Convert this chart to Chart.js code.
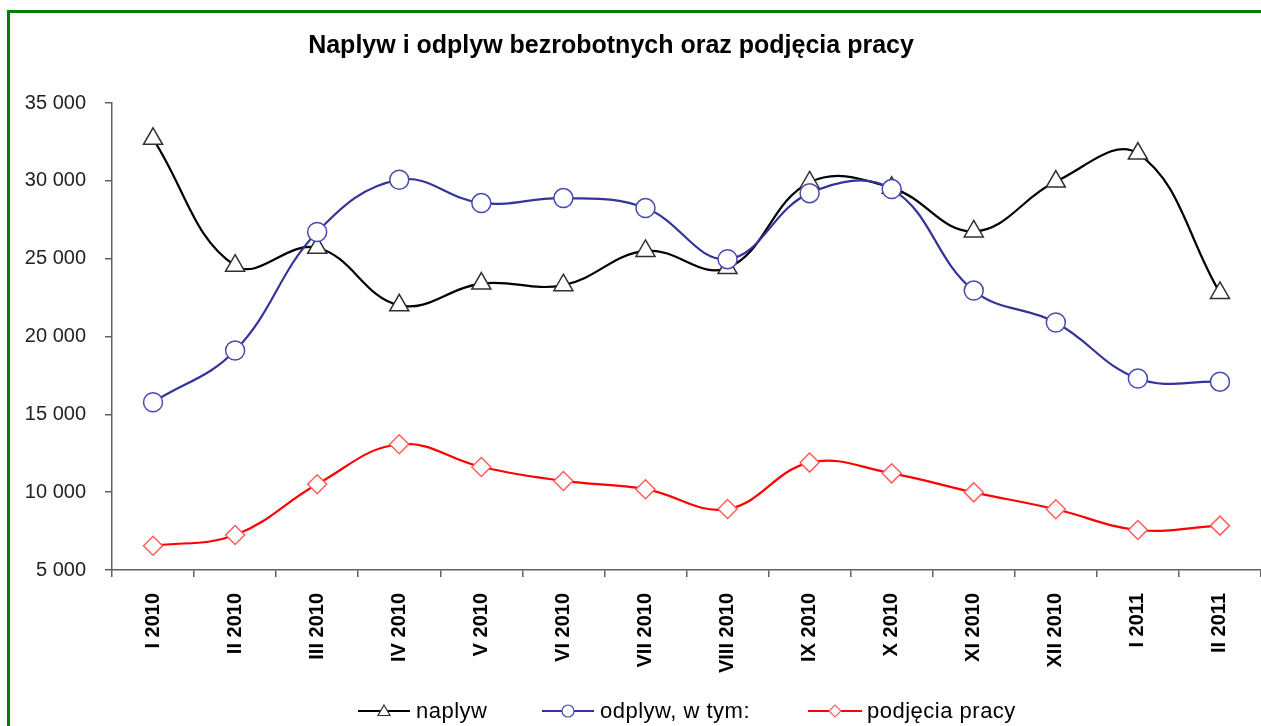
<!DOCTYPE html>
<html lang="pl">
<head>
<meta charset="utf-8">
<title>Naplyw i odplyw bezrobotnych</title>
<script src="https://cdn.jsdelivr.net/npm/chart.js@4.4.1/dist/chart.umd.min.js"></script>
<style>
  html, body { margin: 0; padding: 0; background: #fff; overflow: hidden; }
  #wrap { position: relative; width: 1261px; height: 726px; }
  #frame {
    position: absolute; left: 7px; top: 10px; width: 1300px; height: 800px;
    border-left: 3px solid #008000; border-top: 3px solid #008000;
  }
  canvas { position: absolute; left: 0; top: 0; }
</style>
</head>
<body>
<div id="wrap">
  <div id="frame"></div>
  <canvas id="chart" width="1261" height="726"></canvas>
</div>
<script>
/* ---------------- Data ---------------- */
const months = ['I 2010', 'II 2010', 'III 2010', 'IV 2010', 'V 2010', 'VI 2010', 'VII 2010',
                'VIII 2010', 'IX 2010', 'X 2010', 'XI 2010', 'XII 2010', 'I 2011', 'II 2011'];
const naplyw   = [32700, 24550, 25700, 22000, 23400, 23300, 25500, 24400, 29900, 29550, 26750, 29950, 31750, 22800];
const odplyw   = [15780, 19100, 26710, 30070, 28570, 28890, 28250, 24970, 29210, 29470, 22950, 20900, 17300, 17100];
const podjecia = [6560, 7250, 10510, 13080, 11620, 10720, 10190, 8920, 11900, 11210, 9990, 8900, 7570, 7850];
const yTicks   = [5000, 10000, 15000, 20000, 25000, 30000, 35000];

const chartTitle = 'Naplyw i odplyw bezrobotnych oraz podjęcia pracy';
const seriesNames = ['naplyw', 'odplyw, w tym:', 'podjęcia pracy'];

// "35 000" style numbers
const fmt = v => String(v).replace(/\B(?=(\d{3})+(?!\d))/g, ' ');

/* ---------------- Title + legend drawn on canvas ---------------- */
const legendPos = [
  { x: 358, w: 52, tx: 416 },
  { x: 542, w: 52, tx: 600 },
  { x: 808, w: 54, tx: 867 }
];

const decorPlugin = {
  id: 'decor',
  afterDraw(chart) {
    const ctx = chart.ctx;
    ctx.save();
    // title
    ctx.fillStyle = '#000';
    ctx.font = 'bold 25px "Liberation Sans", Arial, sans-serif';
    ctx.textAlign = 'center';
    ctx.textBaseline = 'alphabetic';
    ctx.fillText(chartTitle, 611, 53);

    // legend: line sample with marker in the middle, then label
    const ly = 711;
    chart.data.datasets.forEach((ds, i) => {
      const p = legendPos[i];
      ctx.strokeStyle = ds.borderColor;
      ctx.lineWidth = 2;
      ctx.beginPath();
      ctx.moveTo(p.x, ly);
      ctx.lineTo(p.x + p.w, ly);
      ctx.stroke();

      const tri = ds.pointStyle === 'triangle';
      ctx.fillStyle = '#fff';
      ctx.strokeStyle = ds.pointBorderColor;
      ctx.lineWidth = 1.2;
      Chart.helpers.drawPoint(ctx, { pointStyle: ds.pointStyle, radius: tri ? 7 : 6, rotation: 0, borderWidth: 1.2 },
        p.x + p.w / 2, ly + (tri ? 1 : 0));

      ctx.fillStyle = '#000';
      ctx.font = '22px "Liberation Sans", Arial, sans-serif';
      ctx.textAlign = 'left';
      ctx.textBaseline = 'middle';
      ctx.letterSpacing = '0.5px';
      ctx.fillText(ds.label, p.tx, ly + 1);
      ctx.letterSpacing = '0px';
    });
    ctx.restore();
  }
};

/* ---------------- Chart ---------------- */
const ctx = document.getElementById('chart').getContext('2d');
const chart = new Chart(ctx, {
  type: 'line',
  data: {
    labels: months,
    datasets: [
      {
        label: seriesNames[0],
        data: naplyw,
        borderColor: '#000000',
        borderWidth: 2.2,
        pointStyle: 'triangle',
        pointRadius: 11,
        pointBorderColor: '#303030',
        pointBackgroundColor: '#ffffff',
        pointBorderWidth: 1.5,
        order: 2
      },
      {
        label: seriesNames[1],
        data: odplyw,
        borderColor: '#333399',
        borderWidth: 2.2,
        pointStyle: 'circle',
        pointRadius: 9.5,
        pointBorderColor: '#4a4ab0',
        pointBackgroundColor: '#ffffff',
        pointBorderWidth: 1.5,
        order: 1
      },
      {
        label: seriesNames[2],
        data: podjecia,
        borderColor: '#ff0000',
        borderWidth: 2.2,
        pointStyle: 'rectRot',
        pointRadius: 9.5,
        pointBorderColor: '#ff5c5c',
        pointBackgroundColor: '#ffffff',
        pointBorderWidth: 1.5,
        order: 0
      }
    ]
  },
  options: {
    responsive: false,
    animation: false,
    devicePixelRatio: 1,
    clip: false,
    layout: { autoPadding: false, padding: { left: 0, top: 103, right: 0, bottom: 0 } },
    elements: { line: { tension: 0.4, fill: false } },
    plugins: {
      legend: { display: false },
      title: { display: false },
      tooltip: { enabled: false }
    },
    scales: {
      x: {
        offset: true,
        afterFit: s => { s.height = 156; s.paddingLeft = 0; s.paddingRight = 0; },
        grid: { offset: true, drawOnChartArea: false, drawTicks: true, tickLength: 7, color: '#606060', lineWidth: 1.5 },
        border: { display: true, color: '#606060', width: 1.5 },
        ticks: {
          autoSkip: false,
          minRotation: 90,
          maxRotation: 90,
          padding: 16,
          color: '#000',
          font: { family: '"Liberation Sans", Arial, sans-serif', size: 20, weight: 'bold' }
        }
      },
      y: {
        min: 5000,
        max: 35000,
        afterFit: s => { s.width = 112; s.paddingTop = 0; s.paddingBottom = 0; },
        afterBuildTicks: s => { s.ticks = yTicks.map(v => ({ value: v })); },
        grid: { drawOnChartArea: false, drawTicks: true, tickLength: 7, color: '#606060', lineWidth: 1.5 },
        border: { display: true, color: '#606060', width: 1.5 },
        ticks: {
          padding: 19,
          color: '#222',
          font: { family: '"Liberation Sans", Arial, sans-serif', size: 20 },
          callback: v => fmt(v)
        }
      }
    }
  },
  plugins: [decorPlugin]
});
</script>
</body>
</html>
